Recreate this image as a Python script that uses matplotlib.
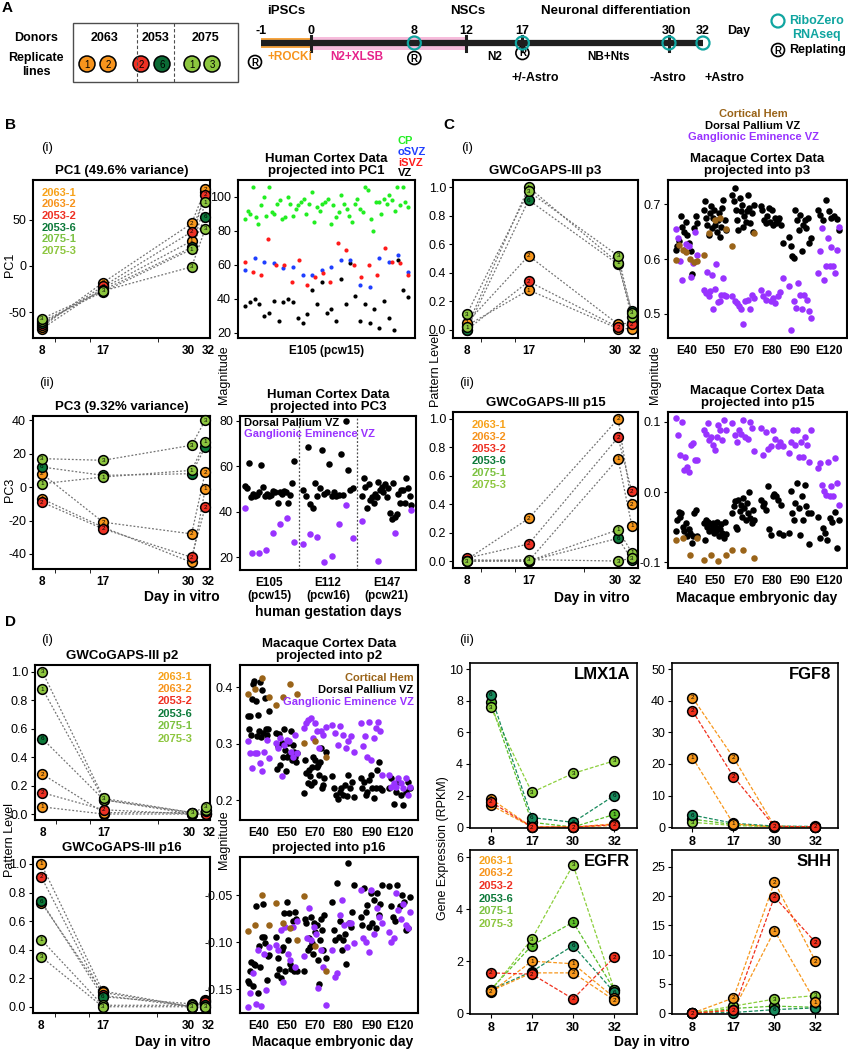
import numpy as np
import matplotlib.pyplot as plt
from matplotlib.patches import Circle, Rectangle
from matplotlib.transforms import ScaledTranslation

plt.rcParams['font.family'] = ['Liberation Sans', 'DejaVu Sans']
plt.rcParams['axes.unicode_minus'] = False
plt.rcParams['axes.linewidth'] = 1.5

W, H = 848, 1050

# ---------------- cell lines ----------------
line_names = ['2063-1', '2063-2', '2053-2', '2053-6', '2075-1', '2075-3']
rep_nums = ['1', '2', '2', '6', '1', '3']
line_colors = ['#f7971c', '#f7971c', '#ee3124', '#0d7a3a', '#8dc63f', '#8dc63f']
legend_colors = ['#f7a21b', '#f7941d', '#ee3124', '#0d7a3a', '#7cc242', '#8dc63f']
days = [8, 17, 30, 32]

# PCA / pattern levels per line (rows follow line_names)
pc1 = [[-68, -24, 27, 80], [-66, -18, 46, 83], [-64, -22, 37, 77],
       [-62, -26, 20, 53], [-60, -28, 18, 69], [-57, -27, -1, 40]]
pc3 = [[-7, -24, -45, -1], [8, -21, -28, 9], [-9, -25, -42, -12],
       [12, 7, 8, 24], [2, 6, 10, 27], [17, 16, 25, 40]]
p3 = [[0.03, 0.28, 0.01, 0.01], [0.05, 0.52, 0.04, 0.05], [0.0, 0.34, 0.02, 0.04],
      [0.0, 0.91, 0.46, 0.13], [0.02, 1.0, 0.47, 0.09], [0.11, 0.97, 0.52, 0.12]]
p15 = [[0.01, 0.0, 0.72, 0.25], [0.01, 0.30, 1.0, 0.40], [0.02, 0.12, 0.87, 0.49],
       [0.0, 0.0, 0.16, 0.01], [0.0, 0.0, 0.22, 0.06], [0.0, 0.01, 0.0, 0.02]]
p2 = [[0.05, 0.0, 0.0, 0.0], [0.28, 0.01, 0.01, 0.01], [0.15, 0.03, 0.0, 0.0],
      [0.53, 0.10, 0.01, 0.02], [0.88, 0.10, 0.0, 0.03], [1.0, 0.11, 0.01, 0.05]]
p16 = [[1.0, 0.11, 0.0, 0.05], [0.73, 0.10, 0.0, 0.04], [0.91, 0.08, 0.0, 0.03],
       [0.74, 0.07, 0.02, 0.01], [0.47, 0.01, 0.01, 0.0], [0.35, 0.0, 0.0, 0.0]]

# gene expression (RPKM)
gene_colors = ['#f7971c', '#f7971c', '#f0301c', '#178a5c', '#5cbf2a', '#8ccf3c']
lmx1a = [[1.4, 0.0, 0.0, 0.1], [1.8, 0.0, 0.0, 0.2], [1.6, 0.0, 0.0, 0.15],
         [8.4, 0.6, 0.3, 2.0], [7.9, 0.3, 0.0, 0.8], [7.6, 2.2, 3.4, 4.2]]
fgf8 = [[22, 1.0, 0.0, 0.0], [41, 22, 0.3, 0.0], [36.8, 16, 0.2, 0.1],
        [3.8, 1.2, 0.3, 0.2], [2.5, 0.8, 0.2, 0.1], [1.5, 0.5, 0.1, 0.0]]
egfr = [[0.8, 2.0, 1.9, 0.6], [0.85, 1.55, 1.55, 0.5], [1.55, 1.5, 0.55, 2.15],
        [0.9, 1.6, 2.6, 0.8], [0.9, 2.6, 3.5, 0.9], [0.85, 2.85, 5.7, 0.9]]
shh = [[0, 0.5, 14.1, 1.9], [0, 2.6, 22.4, 8.9], [0, 0.5, 19.9, 12.1],
       [0, 0.1, 0.6, 0.9], [0, 0.8, 1.2, 1.0], [0, 1.2, 2.4, 3.0]]

# ---------------- human cortex projections ----------------
cp_vals = [87, 92, 90, 106, 88, 84, 95, 100, 89, 106, 91, 90, 96, 98, 87, 88, 100, 96, 89, 93,
           95, 97, 99, 90, 96, 103, 85, 94, 92, 96, 97, 99, 84, 95, 88, 91, 101, 96, 93, 89,
           85, 96, 99, 93, 91, 106, 104, 87, 80, 97, 97, 90, 99, 96, 101, 98, 92, 106, 95, 106, 97, 94]
osvz_vals = [57, 64, 62, 61, 58, 59, 54, 54, 57, 59, 63, 63, 48, 47, 64, 62, 66, 56]
isvz_vals = [62, 56, 54, 75, 60, 60, 50, 63, 48, 53, 55, 50, 73, 69, 60, 53, 60, 54, 70, 62, 61, 54]
vz_vals = [36, 38, 40, 37, 30, 32, 39, 27, 38, 40, 38, 29, 26, 31, 45, 37, 50, 32, 34, 27,
           52, 37, 61, 42, 27, 37, 26, 34, 23, 39, 29, 22, 63, 45, 41]

human_groups = ['E105\n(pcw15)', 'E112\n(pcw16)', 'E147\n(pcw21)']
pc3_dp = [[51.5, 50.3, 61.6, 46.6, 47.8, 46.9, 47.4, 48.5, 60.6, 51.0, 46.9, 47.8, 46.9, 47.4,
           49.3, 48.8, 43.7, 48.8, 47.8, 49.3, 48.8, 44.0, 47.4, 52.5, 62.5],
          [49.6, 47.0, 68.4, 43.4, 41.8, 52.5, 47.0, 50.3, 67.2, 48.0, 48.8, 61.0, 47.0, 48.8,
           47.0, 47.4, 65.4, 47.4, 80.0, 58.4, 49.6, 50.3],
          [47.0, 54.7, 51.0, 41.8, 52.2, 45.0, 46.6, 43.7, 47.8, 46.6, 53.2, 49.6, 51.0, 48.8,
           52.2, 46.6, 50.3, 39.3, 37.0, 52.5, 37.8, 39.0, 47.8, 44.0, 49.6, 49.6, 44.0, 54.7,
           50.3, 47.0, 42.9]]
pc3_ge = [[41.5, 21.6, 22.0, 23.0, 30.4, 34.6, 37.4, 26.7],
          [25.7, 30.0, 28.7, 18.0, 20.6, 34.6, 42.9, 28.5],
          [36.0, 18.4, 30.4, 40.6]]

# ---------------- macaque cortex projections ----------------
mac_days = ['E40', 'E50', 'E70', 'E80', 'E90', 'E120']
p3_dp = [[0.617, 0.623, 0.632, 0.679, 0.659, 0.650, 0.668, 0.644, 0.629, 0.614, 0.573, 0.656, 0.678, 0.665],
         [0.690, 0.705, 0.675, 0.662, 0.644, 0.684, 0.696, 0.656, 0.675, 0.690, 0.662, 0.650, 0.672,
          0.684, 0.641, 0.659, 0.693, 0.708, 0.672, 0.653],
         [0.717, 0.705, 0.729, 0.690, 0.672, 0.653, 0.711, 0.687, 0.699, 0.659, 0.678, 0.668, 0.687,
          0.717, 0.693, 0.665, 0.684, 0.650, 0.699],
         [0.696, 0.690, 0.672, 0.665, 0.678, 0.693, 0.668, 0.690, 0.662, 0.675, 0.665, 0.672, 0.675, 0.662, 0.630],
         [0.641, 0.623, 0.606, 0.602, 0.690, 0.672, 0.653, 0.681, 0.614, 0.662, 0.672, 0.656, 0.675, 0.629, 0.638],
         [0.690, 0.681, 0.672, 0.708, 0.687, 0.675, 0.678, 0.673, 0.653]]
p3_ge = [[0.655, 0.639, 0.596, 0.562, 0.617, 0.628, 0.623, 0.567, 0.593, 0.650, 0.608],
         [0.544, 0.538, 0.576, 0.532, 0.541, 0.571, 0.509, 0.545, 0.590, 0.521, 0.523, 0.535, 0.565, 0.535, 0.532],
         [0.532, 0.523, 0.520, 0.514, 0.508, 0.481, 0.523, 0.526, 0.508, 0.535, 0.529],
         [0.544, 0.532, 0.526, 0.538, 0.523, 0.529, 0.520, 0.532, 0.539, 0.565],
         [0.550, 0.471, 0.523, 0.511, 0.556, 0.535, 0.508, 0.535, 0.526, 0.505, 0.493],
         [0.575, 0.614, 0.656, 0.562, 0.587, 0.638, 0.587, 0.622, 0.587, 0.575, 0.617, 0.659]]
p3_ch = [[0.599, 0.626, 0.616, 0.612, 0.600, 0.594, 0.597], [0.608, 0.647, 0.672, 0.675, 0.655],
         [0.624, 0.647], [], [], []]

p15_dp = [[-0.056, -0.039, -0.028, -0.035, -0.030, -0.049, -0.056, -0.044, -0.063, -0.053, -0.058,
           -0.072, -0.063, -0.030, -0.026, -0.063],
          [-0.044, -0.068, -0.039, -0.049, -0.042, -0.056, -0.046, -0.053, -0.044, -0.058, -0.049,
           -0.056, -0.042, -0.051, -0.063, -0.053, -0.046, -0.058, -0.065, -0.042, -0.060],
          [-0.030, -0.020, -0.013, -0.049, -0.053, -0.011, -0.027, -0.018, -0.035, -0.008, -0.023,
           -0.039, -0.016, -0.030, 0.000, -0.037, -0.044, -0.025, -0.039],
          [-0.011, -0.020, -0.015, -0.025, 0.008, -0.053, -0.061, -0.006, -0.002, -0.006, -0.011,
           -0.058, -0.018, -0.061],
          [-0.058, 0.001, -0.030, -0.039, -0.016, 0.013, -0.023, -0.061, -0.006, -0.039, 0.010,
           -0.020, -0.030, -0.074, -0.030],
          [-0.035, -0.065, -0.051, -0.058, -0.068, -0.037, -0.042, -0.028, -0.079, -0.039]]
p15_ge = [[0.105, 0.081, 0.053, 0.100, 0.032, 0.050, 0.036, 0.029, 0.067, 0.070, 0.046, 0.046],
          [0.089, 0.083, 0.098, 0.074, 0.079, 0.067, 0.060, 0.079, 0.095, 0.088, 0.074, 0.102, 0.088],
          [0.098, 0.081, 0.072, 0.088, 0.083, 0.102, 0.079, 0.076, 0.100, 0.091, 0.058],
          [0.091, 0.053, 0.086, 0.062, 0.065, 0.088, 0.076, 0.065, 0.072, 0.066],
          [0.055, 0.072, 0.089, 0.067, 0.088, 0.050, 0.072, 0.050, 0.079, 0.067, 0.043, 0.088],
          [0.034, 0.041, 0.010, 0.001, -0.004, 0.043, -0.006, 0.008, -0.006, 0.048, 0.013, -0.018]]
p15_ch = [[-0.068, -0.065, -0.090, -0.066], [-0.096, -0.089, -0.098, -0.090],
          [-0.082, -0.082, -0.094], [], [], []]

p2_dp = [[0.348, 0.325, 0.348, 0.316, 0.379, 0.405, 0.410, 0.375, 0.313, 0.351, 0.322, 0.409, 0.311,
          0.394, 0.319, 0.381, 0.325, 0.316, 0.325, 0.357],
         [0.319, 0.255, 0.295, 0.317, 0.263, 0.301, 0.277, 0.325, 0.289, 0.251, 0.277, 0.301, 0.280,
          0.322, 0.271, 0.298, 0.286, 0.277, 0.268, 0.283],
         [0.212, 0.271, 0.248, 0.230, 0.253, 0.242, 0.227, 0.259, 0.277, 0.233, 0.271, 0.259, 0.262,
          0.245, 0.268, 0.293, 0.221, 0.227, 0.239, 0.286],
         [0.242, 0.221, 0.209, 0.202, 0.215, 0.221, 0.209, 0.227, 0.207, 0.245, 0.221, 0.233, 0.205],
         [0.239, 0.221, 0.233, 0.209, 0.215, 0.236, 0.245, 0.221, 0.204, 0.221, 0.253, 0.268, 0.221, 0.218],
         [0.221, 0.239, 0.193, 0.215, 0.233, 0.209, 0.192, 0.215, 0.233, 0.221]]
p2_ge = [[0.304, 0.283, 0.257, 0.283, 0.283, 0.265, 0.251, 0.286, 0.307, 0.274],
         [0.301, 0.292, 0.310, 0.242, 0.298, 0.307, 0.304, 0.286, 0.277, 0.316, 0.283],
         [0.327, 0.336, 0.342, 0.345, 0.310, 0.336, 0.322, 0.292, 0.322, 0.316, 0.330],
         [0.333, 0.319, 0.298, 0.332, 0.316, 0.292, 0.304, 0.313, 0.286],
         [0.336, 0.295, 0.313, 0.277, 0.339, 0.271, 0.310, 0.327, 0.339, 0.322, 0.245],
         [0.245, 0.224, 0.230, 0.224, 0.239, 0.230, 0.221, 0.239, 0.209, 0.224]]
p2_ch = [[0.388, 0.397, 0.416, 0.382], [0.369, 0.383, 0.405, 0.388], [0.301, 0.304, 0.277], [], [], []]

p16_dp = [[-0.141, -0.143, -0.131, -0.121, -0.146, -0.123, -0.124, -0.062, -0.154, -0.104, -0.126,
           -0.094, -0.059, -0.094, -0.101, -0.140, -0.115, -0.114],
          [-0.094, -0.135, -0.117, -0.128, -0.138, -0.108, -0.105, -0.069, -0.130, -0.057, -0.098,
           -0.069, -0.123, -0.128, -0.077, -0.130, -0.068, -0.075, -0.130],
          [-0.130, -0.075, -0.080, -0.108, -0.096, -0.105, -0.073, -0.101, -0.112, -0.080, -0.089,
           -0.082, -0.119, -0.144, -0.098, -0.075, -0.087, -0.108, -0.071, -0.117],
          [-0.057, -0.087, -0.098, -0.037, -0.094, -0.077, -0.108, -0.098, -0.091, -0.123, -0.016,
           -0.080, -0.084, -0.068, -0.039],
          [-0.073, -0.082, -0.043, -0.068, -0.061, -0.084, -0.048, -0.080, -0.055, -0.085, -0.048,
           -0.071, -0.059, -0.039],
          [-0.040, -0.062, -0.073, -0.077, -0.039, -0.062, -0.050, -0.057, -0.087, -0.085, -0.052]]
p16_ge = [[-0.169, -0.154, -0.133, -0.165, -0.108, -0.168, -0.112, -0.151, -0.105],
          [-0.103, -0.108, -0.087, -0.142, -0.084, -0.112, -0.119, -0.084, -0.126, -0.078],
          [-0.115, -0.096, -0.064, -0.098, -0.084, -0.091, -0.149, -0.108, -0.126, -0.167],
          [-0.108, -0.137, -0.133, -0.071, -0.055, -0.082, -0.105, -0.080, -0.080, -0.101],
          [-0.045, -0.096, -0.100, -0.110, -0.045, -0.091, -0.064, -0.073, -0.080],
          [-0.089, -0.100, -0.096, -0.048, -0.066, -0.075, -0.059, -0.082, -0.085, -0.068]]
p16_ch = [[-0.088, -0.082, -0.050, -0.082], [-0.058, -0.080, -0.085, -0.098],
          [-0.051, -0.104, -0.130], [], [], []]

BLACK, PURPLE, BROWN = '#000000', '#9933ff', '#9a6419'
TEAL = '#10a5a0'
TICK_FS = 8.5
TITLE_FS = 9.5

fig = plt.figure(figsize=(W / 100, H / 100), dpi=100)


def pax(x0, y0, x1, y1):
    return fig.add_axes([x0 / W, 1 - y1 / H, (x1 - x0) / W, (y1 - y0) / H])


def ftext(x, y, s, **kw):
    kw.setdefault('ha', 'center')
    kw.setdefault('va', 'center')
    fig.text(x / W, 1 - y / H, s, **kw)


def nudge(lab, dx):
    lab.set_transform(lab.get_transform() + ScaledTranslation(dx / 72, 0, fig.dpi_scale_trans))


def marker_series(ax, xs, vals, colors, order, ls, lcolors=None, ms=7):
    for k, i in enumerate(order):
        z = 3 + k * 0.1
        lc = lcolors[i] if lcolors else '0.45'
        ax.plot(xs, vals[i], ls=ls, color=lc, lw=0.9, zorder=1 if not lcolors else 2)
        ax.plot(xs, vals[i], 'o', ms=ms, mfc=colors[i], mec='black', mew=1.1,
                zorder=z, clip_on=False)
        for x, y in zip(xs, vals[i]):
            ax.text(x, y, rep_nums[i], fontsize=4.5, ha='center', va='center',
                    zorder=z + 0.05, clip_on=False)


def trend_panel(box, vals, ylim, yticks, xlim=(6.7, 32.7)):
    ax = pax(*box)
    marker_series(ax, days, vals, line_colors, range(6), (0, (1.5, 1.5)))
    ax.set_xlim(*xlim)
    ax.set_ylim(*ylim)
    ax.set_xticks(days)
    ax.set_xticklabels([str(d) for d in days], fontweight='bold', fontsize=TICK_FS)
    ax.set_xticks([10, 15, 25], minor=True)
    ax.tick_params(axis='x', which='major', length=0, pad=5)
    ax.tick_params(axis='x', which='minor', length=3)
    ax.set_yticks(yticks)
    ax.tick_params(axis='y', labelsize=TICK_FS + 0.5, length=3, pad=2)
    labs = ax.get_xticklabels()
    nudge(labs[2], -2.2)
    nudge(labs[3], 2.2)
    return ax


def legend_text(ax, x, y, step, ha='left', fs=8):
    for k, (name, c) in enumerate(zip(line_names, legend_colors)):
        ax.text(x, y - k * step, name, color=c, fontsize=fs, fontweight='bold',
                ha=ha, va='center', transform=ax.transAxes)


def macaque_panel(box, dp, ge, ch, ylim, yticks, spread=0.38):
    ax = pax(*box)
    for groups, c in [(dp, BLACK), (ge, PURPLE), (ch, BROWN)]:
        for gi, vals in enumerate(groups):
            if len(vals) == 0:
                continue
            xs = gi + 1 + np.linspace(-spread, spread, len(vals))
            ax.scatter(xs, vals, s=22, color=c, lw=0, zorder=2)
    ax.set_xlim(0.35, 6.65)
    ax.set_ylim(*ylim)
    ax.set_xticks(range(1, 7))
    ax.set_xticklabels(mac_days, fontweight='bold', fontsize=TICK_FS)
    ax.tick_params(axis='x', length=0, pad=5)
    ax.set_yticks(yticks)
    ax.tick_params(axis='y', labelsize=TICK_FS + 0.5, length=3, pad=2)
    return ax


# ================= Panel A =================
axA = fig.add_axes([0, 1 - 100 / H, 1, 100 / H])
axA.set_xlim(0, W)
axA.set_ylim(100, 0)
axA.axis('off')
nar = ['Liberation Sans Narrow', 'Liberation Sans', 'DejaVu Sans']
A_FS = 9
axA.text(2, 8, 'A', fontsize=11, fontweight='bold', ha='left', va='center')
axA.add_patch(Rectangle((73, 23), 165, 59, fill=False, lw=1.0, ec='0.3'))
for xd in [137, 174]:
    axA.plot([xd, xd], [23, 82], ls=(0, (3, 2)), color='0.3', lw=0.8)
axA.text(36, 38, 'Donors', fontsize=A_FS, fontweight='bold', ha='center', va='center', family=nar)
axA.text(36, 58, 'Replicate', fontsize=A_FS, fontweight='bold', ha='center', va='center', family=nar)
axA.text(36, 72, 'lines', fontsize=A_FS, fontweight='bold', ha='center', va='center', family=nar)
for xd, lab in zip([105, 156, 206], ['2063', '2053', '2075']):
    axA.text(xd, 38, lab, fontsize=A_FS, fontweight='bold', ha='center', va='center', family=nar)
rep_cols = ['#f7941d', '#f7941d', '#ee3124', '#0b6b35', '#8dc63f', '#8dc63f']
for xc, c, n in zip([87, 108, 141, 162, 192, 212], rep_cols, rep_nums):
    axA.add_patch(Circle((xc, 64), 8, fc=c, ec='black', lw=1.1))
    axA.text(xc, 64.5, n, fontsize=7, ha='center', va='center', family=nar)


def tl(d):
    return np.interp(d, [-1, 0, 12, 30, 32], [261, 311, 466, 669, 703])


axA.add_patch(Rectangle((tl(-1), 38), tl(0) - tl(-1), 10, color='#f7a541', lw=0))
axA.add_patch(Rectangle((tl(0), 37), tl(12) - tl(0), 13, color='#f7bcdc', lw=0))
axA.plot([tl(-1), tl(32)], [43, 43], lw=4.5, color='#1f1f1f', solid_capstyle='butt')
for d in [0, 12, 17, 30]:
    axA.plot([tl(d), tl(d)], [36, 51], lw=2.2, color='#1f1f1f')
for d in [8, 17, 30, 32]:
    axA.add_patch(Circle((tl(d), 43), 6.5, fill=False, ec=TEAL, lw=1.6, zorder=5))
for d in [-1, 0, 8, 12, 17, 30, 32]:
    axA.text(tl(d), 31, str(d), fontsize=A_FS, fontweight='bold', ha='center', va='center', family=nar)
axA.text(727, 31, 'Day', fontsize=A_FS, fontweight='bold', ha='left', va='center', family=nar)
axA.text(286, 11, 'iPSCs', fontsize=9.5, fontweight='bold', ha='center', va='center', family=nar)
axA.text(468, 11, 'NSCs', fontsize=9.5, fontweight='bold', ha='center', va='center', family=nar)
axA.text(616, 11, 'Neuronal differentiation', fontsize=9.5, fontweight='bold',
         ha='center', va='center', family=nar)
for xt, s, c in [(290, '+ROCKi', '#f7941d'), (357, 'N2+XLSB', '#e6228a'),
                 (495, 'N2', 'black'), (608, 'NB+Nts', 'black')]:
    axA.text(xt, 57, s, fontsize=8.5, fontweight='bold', color=c, ha='center', va='center', family=nar)


def replating(x, y):
    axA.add_patch(Circle((x, y), 6.5, fill=False, ec='black', lw=1.2))
    axA.text(x, y + 0.5, 'R', fontsize=7, fontweight='bold', ha='center', va='center', family=nar)


replating(255, 62)
replating(tl(8), 58)
replating(tl(17), 53)
for xt, s in [(535, '+/-Astro'), (668, '-Astro'), (724, '+Astro')]:
    axA.text(xt, 78, s, fontsize=A_FS, fontweight='bold', ha='center', va='center', family=nar)
axA.add_patch(Circle((778, 21), 6.5, fill=False, ec=TEAL, lw=1.6))
axA.text(816, 21, 'RiboZero', fontsize=A_FS, fontweight='bold', color=TEAL, ha='center', va='center', family=nar)
axA.text(816, 35, 'RNAseq', fontsize=A_FS, fontweight='bold', color=TEAL, ha='center', va='center', family=nar)
replating(778, 50)
axA.text(789, 50, 'Replating', fontsize=A_FS, fontweight='bold', ha='left', va='center', family=nar)

# ================= Panel B =================
ftext(5, 125, 'B', fontsize=11, fontweight='bold', ha='left')
ftext(47, 148, '(i)', fontsize=9.5)
ftext(47, 383, '(ii)', fontsize=9.5)

ax = trend_panel((33, 180, 210, 338), pc1, (-78, 93), [-50, 0, 50])
ax.set_title('PC1 (49.6% variance)', fontsize=TITLE_FS, fontweight='bold', pad=4)
legend_text(ax, 0.05, 0.92, 0.074)
ftext(10, 265, 'PC1', fontsize=9, rotation=90)

ax = pax(238, 180, 415, 338)
for vals, c in [(vz_vals, BLACK), (cp_vals, '#22ee22'), (osvz_vals, '#1f3fff'), (isvz_vals, '#ff1a1a')]:
    xs = np.linspace(0.04, 0.96, len(vals))
    ax.scatter(xs, vals, s=9, color=c, lw=0)
ax.set_xlim(0, 1)
ax.set_ylim(17, 110)
ax.set_xticks([0.5])
ax.set_xticklabels(['E105 (pcw15)'], fontweight='bold', fontsize=TICK_FS)
ax.tick_params(axis='x', length=0, pad=5)
ax.set_yticks([20, 40, 60, 80, 100])
ax.tick_params(axis='y', labelsize=TICK_FS + 0.5, length=3, pad=2)
ax.set_title('Human Cortex Data\nprojected into PC1', fontsize=TITLE_FS, fontweight='bold', pad=4, linespacing=1.1)
for yy, s, c in [(141, 'CP', '#22ee22'), (152, 'oSVZ', '#1f3fff'), (163, 'iSVZ', '#ff1a1a'), (173, 'VZ', 'black')]:
    ftext(398, yy, s, fontsize=8, fontweight='bold', color=c, ha='left')

ax = trend_panel((33, 416, 210, 569), pc3, (-49, 42.5), [-40, -20, 0, 20, 40])
ax.set_title('PC3 (9.32% variance)', fontsize=TITLE_FS, fontweight='bold', pad=4)
ftext(10, 490, 'PC3', fontsize=9, rotation=90)

ax = pax(240, 416, 416, 570)
for groups, c in [(pc3_dp, BLACK), (pc3_ge, PURPLE)]:
    for gi, vals in enumerate(groups):
        xs = gi + 0.5 + np.linspace(-0.42, 0.42, len(vals))
        ax.scatter(xs, vals, s=22, color=c, lw=0)
for xv in [1, 2]:
    ax.axvline(xv, color='0.3', ls=(0, (1.5, 1.5)), lw=0.9)
ax.set_xlim(0, 3)
ax.set_ylim(14.3, 82.2)
ax.set_xticks([0.5, 1.5, 2.5])
ax.set_xticklabels(human_groups, fontweight='bold', fontsize=TICK_FS, linespacing=1.1)
ax.tick_params(axis='x', length=0, pad=5)
ax.set_yticks([20, 40, 60, 80])
ax.tick_params(axis='y', labelsize=TICK_FS + 0.5, length=3, pad=2)
ax.set_title('Human Cortex Data\nprojected into PC3', fontsize=TITLE_FS, fontweight='bold', pad=4, linespacing=1.1)
ax.text(0.02, 0.955, 'Dorsal Pallium VZ', color='black', fontsize=8, fontweight='bold',
        transform=ax.transAxes, va='center')
ax.text(0.02, 0.885, 'Ganglionic Eminence VZ', color=PURPLE, fontsize=8, fontweight='bold',
        transform=ax.transAxes, va='center')
ftext(224, 375, 'Magnitude', fontsize=9, rotation=90)
ftext(182, 597, 'Day in vitro', fontsize=10, fontweight='bold')
ftext(328, 612, 'human gestation days', fontsize=10, fontweight='bold')

# ================= Panel C =================
ftext(443, 125, 'C', fontsize=11, fontweight='bold', ha='left')
ftext(467, 148, '(i)', fontsize=9.5)
ftext(467, 383, '(ii)', fontsize=9.5)

ax = trend_panel((453, 180, 638, 338), p3, (-0.056, 1.05), [0, 0.2, 0.4, 0.6, 0.8, 1.0], xlim=(6.0, 32.9))
ax.set_title('GWCoGAPS-III p3', fontsize=TITLE_FS, fontweight='bold', pad=4)
ax = trend_panel((453, 412, 638, 568), p15, (-0.049, 1.049), [0, 0.2, 0.4, 0.6, 0.8, 1.0], xlim=(6.0, 32.9))
ax.set_title('GWCoGAPS-III p15', fontsize=TITLE_FS, fontweight='bold', pad=4)
legend_text(ax, 0.10, 0.915, 0.077)
ftext(436, 370, 'Pattern Level', fontsize=9, rotation=90)

ax = macaque_panel((668, 180, 847, 338), p3_dp, p3_ge, p3_ch, (0.456, 0.744), [0.5, 0.6, 0.7])
ax.set_title('Macaque Cortex Data\nprojected into p3', fontsize=TITLE_FS, fontweight='bold', pad=4, linespacing=1.1)
for yy, s, c in [(114, 'Cortical Hem', BROWN), (126, 'Dorsal Pallium VZ', 'black'),
                 (137, 'Ganglionic Eminence VZ', PURPLE)]:
    ftext(753, yy, s, fontsize=8, fontweight='bold', color=c)
ax = macaque_panel((668, 412, 847, 568), p15_dp, p15_ge, p15_ch, (-0.108, 0.114), [-0.1, 0.0, 0.1])
ax.set_title('Macaque Cortex Data\nprojected into p15', fontsize=TITLE_FS, fontweight='bold', pad=4, linespacing=1.1)
ftext(655, 375, 'Magnitude', fontsize=9, rotation=90)
ftext(592, 598, 'Day in vitro', fontsize=10, fontweight='bold')
ftext(757, 598, 'Macaque embryonic day', fontsize=10, fontweight='bold')

# ================= Panel D (i) =================
ftext(5, 622, 'D', fontsize=11, fontweight='bold', ha='left')
ftext(47, 640, '(i)', fontsize=9.5)
ax = trend_panel((35, 665, 210, 820), p2, (-0.042, 1.049), [0, 0.2, 0.4, 0.6, 0.8, 1.0], xlim=(6.9, 32.6))
ax.set_title('GWCoGAPS-III p2', fontsize=TITLE_FS, fontweight='bold', pad=4)
legend_text(ax, 0.90, 0.925, 0.08, ha='right')
ax = trend_panel((33, 857, 210, 1013), p16, (-0.044, 1.049), [0, 0.2, 0.4, 0.6, 0.8, 1.0], xlim=(6.8, 32.7))
ax.set_title('GWCoGAPS-III p16', fontsize=TITLE_FS, fontweight='bold', pad=4)
ftext(10, 840, 'Pattern Level', fontsize=9, rotation=90)

ax = macaque_panel((240, 665, 418, 820), p2_dp, p2_ge, p2_ch, (0.165, 0.439), [0.2, 0.3, 0.4])
ax.set_title('Macaque Cortex Data\nprojected into p2', fontsize=TITLE_FS, fontweight='bold', pad=4, linespacing=1.1)
for k, (s, c) in enumerate([('Cortical Hem', BROWN), ('Dorsal Pallium VZ', 'black'),
                            ('Ganglionic Eminence VZ', PURPLE)]):
    ax.text(0.975, 0.915 - k * 0.078, s, color=c, fontsize=8, fontweight='bold',
            ha='right', va='center', transform=ax.transAxes)
ax = macaque_panel((240, 857, 418, 1013), p16_dp, p16_ge, p16_ch, (-0.175, -0.0097), [-0.15, -0.10, -0.05])
ax.set_yticklabels(['-0.15', '-0.10', '-0.05'])
ax.set_title('projected into p16', fontsize=TITLE_FS, fontweight='bold', pad=4)
ftext(224, 840, 'Magnitude', fontsize=9, rotation=90)
ftext(173, 1042, 'Day in vitro', fontsize=10, fontweight='bold')
ftext(333, 1042, 'Macaque embryonic day', fontsize=10, fontweight='bold')

# ================= Panel D (ii) =================
ftext(467, 640, '(ii)', fontsize=9.5)
gene_order = [4, 5, 3, 0, 1, 2]


def gene_panel(box, vals, name, ylim, yticks):
    ax = pax(*box)
    marker_series(ax, range(4), vals, gene_colors, gene_order, (0, (3, 1.5)),
                  lcolors=gene_colors, ms=7)
    ax.set_xlim(-0.5, 3.55)
    ax.set_ylim(*ylim)
    ax.set_xticks(range(4))
    ax.set_xticklabels([str(d) for d in days], fontweight='bold', fontsize=TICK_FS + 0.5)
    ax.tick_params(axis='x', length=3, pad=3)
    ax.set_yticks(yticks)
    ax.tick_params(axis='y', labelsize=TICK_FS + 0.5, length=3, pad=2)
    for sp in ax.spines.values():
        sp.set_linewidth(1.2)
    ax.text(0.96, 0.93, name, fontsize=12, fontweight='bold', ha='right', va='center',
            transform=ax.transAxes)
    return ax


gene_panel((470, 663, 637, 828), lmx1a, 'LMX1A', (-0.06, 10.4), [0, 2, 4, 6, 8, 10])
gene_panel((672, 663, 838, 828), fgf8, 'FGF8', (-0.3, 52), [0, 10, 20, 30, 40, 50])
ax = gene_panel((470, 850, 637, 1014), egfr, 'EGFR', (-0.03, 6.27), [0, 2, 4, 6])
legend_text(ax, 0.05, 0.935, 0.077)
gene_panel((672, 850, 838, 1014), shh, 'SHH', (-0.15, 27.9), [0, 5, 10, 15, 20, 25])
ftext(443, 848, 'Gene Expression (RPKM)', fontsize=9, rotation=90)
ftext(652, 1042, 'Day in vitro', fontsize=10, fontweight='bold')

fig.savefig('out.png', dpi=100)
